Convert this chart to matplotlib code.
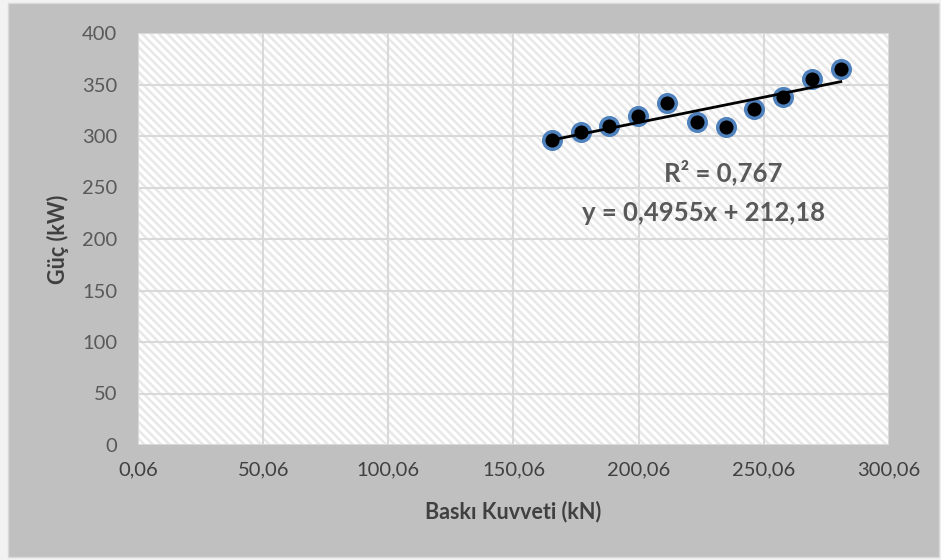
import numpy as np
import matplotlib
matplotlib.use('Agg')
import matplotlib.pyplot as plt
import matplotlib.patches as patches
from matplotlib.ticker import FuncFormatter

plt.rcParams['font.family'] = ['Lato', 'DejaVu Sans']
plt.rcParams['hatch.linewidth'] = 1.8

# datos
baski = [165.5, 177.0, 188.3, 199.9, 211.4, 223.2, 234.9, 246.2, 257.8, 269.2, 280.8]
guc = [296.0, 304.2, 309.7, 319.7, 332.3, 313.6, 308.4, 326.5, 338.2, 355.6, 364.7]
x_ticks = [0.06, 50.06, 100.06, 150.06, 200.06, 250.06, 300.06]
y_ticks = [0, 50, 100, 150, 200, 250, 300, 350, 400]
texto_r2 = 'R² = 0,767'
texto_ec = 'y = 0,4955x + 212,18'

gris_txt = '#595959'

fig = plt.figure(figsize=(9.41, 5.6), dpi=100)
fig.patch.set_facecolor('#f2f2f2')
# fondo gris del area del grafico
fig.patches.append(patches.Rectangle((8 / 941, 3 / 560), 931 / 941, 554 / 560,
                                     transform=fig.transFigure, facecolor='#c0c0c0',
                                     edgecolor='#d9d9d9', linewidth=1, zorder=-10))

ax = fig.add_axes([138 / 941, 1 - 445 / 560, 751 / 941, 412 / 560])
ax.set_zorder(5)
ax.set_facecolor('white')
# rayado diagonal del fondo
ax.add_patch(patches.Rectangle((0, 0), 1, 1, transform=ax.transAxes, facecolor='white',
                               edgecolor='#e8e8e8', linewidth=0, hatch='\\\\\\\\', zorder=0))

ax.set_xlim(x_ticks[0], x_ticks[-1])
ax.set_ylim(0, 400)
ax.set_xticks(x_ticks)
ax.set_yticks(y_ticks)
ax.xaxis.set_major_formatter(FuncFormatter(lambda v, p: f'{v:.2f}'.replace('.', ',')))
ax.grid(True, color='#d9d9d9', linewidth=1.5, zorder=1)
ax.set_axisbelow(True)
for s in ax.spines.values():
    s.set_visible(False)
ax.tick_params(length=0, labelsize=14.5)
ax.tick_params(axis='x', pad=12, colors='#404040')
ax.tick_params(axis='y', pad=15, colors=gris_txt)

# puntos
ax.scatter(baski, guc, s=160, facecolor='black', edgecolor='#4f81bd', linewidth=2.5, zorder=3)

# linea de tendencia
m, b = np.polyfit(baski, guc, 1)
xx = np.array([baski[0], baski[-1]])
ax.plot(xx, m * xx + b, color='black', linewidth=2, zorder=4)

ax.text(723 / 941, 1 - 172 / 560, texto_r2, transform=fig.transFigure, ha='center', va='center',
        fontsize=18.5, fontweight='bold', color=gris_txt)
ax.text(703 / 941, 1 - 213 / 560, texto_ec, transform=fig.transFigure, ha='center', va='center',
        fontsize=18.5, fontweight='bold', color=gris_txt)

ax.set_xlabel('Baskı Kuvveti (kN)', fontsize=15.5, fontweight='bold', color='#404040')
ax.set_ylabel('Güç (kW)', fontsize=15.5, fontweight='bold', color='#404040')
ax.xaxis.set_label_coords(513 / 941, 1 - 512 / 560, transform=fig.transFigure)
ax.yaxis.set_label_coords(58 / 941, 1 - 239 / 560, transform=fig.transFigure)
ax.xaxis.label.set_va('center')
ax.yaxis.label.set_va('center')

fig.savefig('out.png', dpi=100, facecolor=fig.get_facecolor())
